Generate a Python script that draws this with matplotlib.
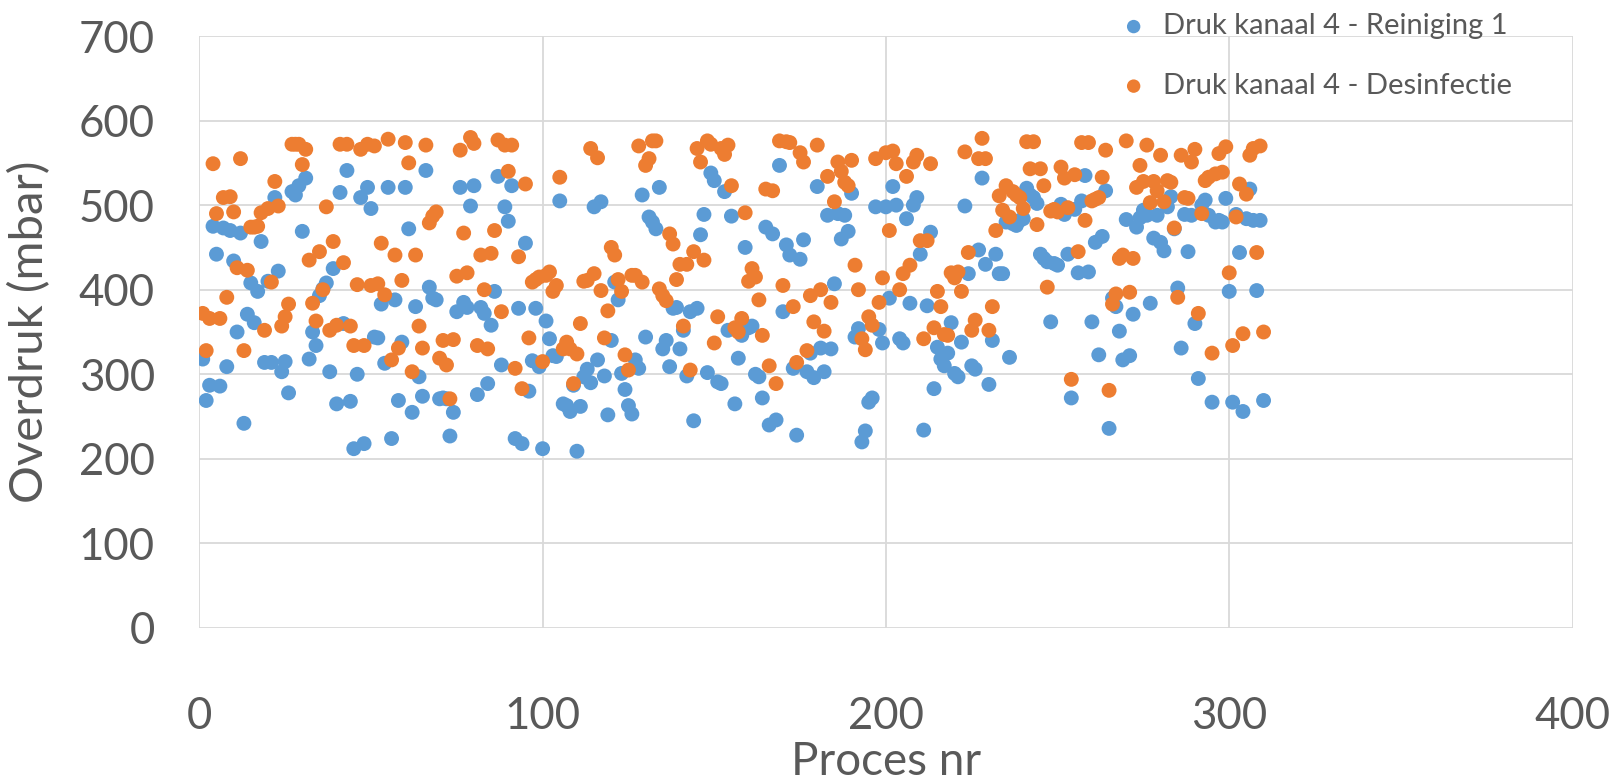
import numpy as np
import matplotlib
matplotlib.use("Agg")
import matplotlib.pyplot as plt

plt.rcParams['font.family'] = ['Lato', 'DejaVu Sans']

BLUE = '#5B9BD5'
ORANGE = '#ED7D31'
GRID = '#D9D9D9'
TEXT = '#595959'

# druk kanaal 4, proces 1..310 (mbar)
reiniging = [
    318, 269, 287, 475, 442, 286, 473, 309, 470, 434,
    350, 467, 242, 371, 408, 361, 398, 457, 314, 410,
    314, 509, 422, 303, 315, 278, 516, 512, 523, 469,
    532, 318, 350, 334, 393, 401, 408, 303, 425, 265,
    515, 360, 541, 268, 212, 300, 509, 218, 521, 496,
    344, 343, 383, 313, 521, 224, 388, 269, 338, 521,
    472, 255, 380, 297, 274, 541, 403, 390, 388, 271,
    272, 271, 227, 255, 374, 521, 385, 379, 499, 523,
    276, 379, 372, 289, 358, 398, 534, 311, 498, 481,
    523, 224, 378, 218, 455, 280, 316, 378, 309, 212,
    363, 342, 322, 321, 505, 265, 263, 256, 287, 209,
    262, 297, 306, 290, 498, 317, 504, 298, 252, 340,
    409, 388, 301, 282, 263, 253, 317, 307, 512, 344,
    486, 480, 472, 521, 330, 340, 309, 378, 379, 330,
    352, 298, 374, 245, 378, 465, 489, 302, 538, 529,
    291, 289, 516, 352, 487, 265, 319, 346, 450, 355,
    357, 300, 297, 272, 474, 240, 466, 246, 547, 374,
    453, 441, 307, 228, 436, 459, 303, 325, 296, 522,
    331, 303, 488, 330, 407, 490, 460, 488, 469, 514,
    344, 354, 220, 233, 267, 272, 498, 353, 337, 498,
    390, 522, 500, 342, 337, 484, 384, 500, 509, 442,
    234, 381, 468, 283, 332, 318, 310, 325, 361, 301,
    297, 338, 499, 419, 310, 306, 447, 532, 430, 288,
    340, 442, 419, 419, 480, 320, 478, 476, 482, 484,
    520, 512, 509, 502, 442, 437, 433, 362, 431, 429,
    501, 489, 442, 272, 495, 420, 505, 535, 421, 362,
    456, 323, 463, 517, 236, 390, 380, 351, 317, 483,
    322, 371, 474, 485, 494, 488, 384, 461, 488, 456,
    446, 498, 510, 472, 402, 331, 489, 445, 488, 360,
    295, 500, 506, 488, 267, 480, 482, 480, 508, 398,
    267, 489, 444, 256, 484, 519, 482, 399, 482, 269,
]

desinfectie = [
    372, 328, 366, 549, 490, 366, 509, 391, 510, 492,
    426, 555, 328, 423, 474, 474, 475, 491, 352, 496,
    409, 528, 499, 357, 368, 383, 572, 572, 572, 548,
    566, 435, 384, 363, 445, 400, 498, 352, 457, 358,
    572, 432, 572, 357, 334, 406, 566, 334, 572, 405,
    570, 407, 455, 394, 578, 317, 441, 331, 411, 574,
    550, 303, 441, 357, 331, 571, 479, 487, 492, 319,
    340, 311, 271, 341, 416, 565, 467, 420, 580, 573,
    334, 441, 400, 330, 443, 470, 577, 374, 571, 540,
    571, 307, 439, 283, 525, 343, 409, 412, 415, 315,
    417, 421, 398, 405, 533, 330, 338, 330, 289, 324,
    360, 410, 411, 567, 419, 556, 399, 343, 375, 450,
    441, 412, 398, 323, 305, 417, 417, 570, 409, 547,
    555, 576, 576, 401, 393, 387, 466, 454, 412, 430,
    357, 430, 305, 445, 567, 551, 435, 576, 572, 337,
    368, 567, 560, 571, 523, 355, 350, 366, 491, 410,
    425, 415, 388, 346, 519, 310, 517, 289, 576, 405,
    575, 574, 380, 314, 562, 551, 328, 393, 362, 571,
    400, 351, 534, 385, 504, 551, 540, 527, 523, 553,
    429, 400, 342, 329, 368, 358, 555, 385, 414, 562,
    470, 564, 549, 400, 419, 534, 429, 551, 559, 458,
    342, 458, 549, 355, 398, 380, 347, 346, 420, 414,
    421, 398, 563, 444, 352, 364, 555, 579, 555, 352,
    380, 470, 511, 494, 523, 486, 516, 512, 509, 496,
    575, 543, 575, 477, 543, 523, 403, 493, 495, 492,
    545, 532, 497, 294, 536, 445, 574, 482, 574, 505,
    507, 509, 533, 565, 281, 383, 395, 437, 441, 576,
    397, 437, 521, 547, 528, 571, 503, 528, 517, 559,
    504, 529, 527, 473, 391, 559, 509, 508, 551, 566,
    372, 490, 529, 533, 325, 537, 561, 539, 569, 420,
    334, 486, 525, 348, 513, 559, 567, 444, 570, 350,
]

proces_r = np.arange(1, len(reiniging) + 1)
proces_d = np.arange(1, len(desinfectie) + 1)

fig = plt.figure(figsize=(16.19, 7.83), dpi=100)
ax = fig.add_axes([0.1231, 0.198, 0.8482, 0.756])

ax.scatter(proces_r, reiniging, s=115, color=BLUE, edgecolors='none',
           label='Druk kanaal 4 - Reiniging 1', zorder=3)
ax.scatter(proces_d, desinfectie, s=115, color=ORANGE, edgecolors='none',
           label='Druk kanaal 4 - Desinfectie', zorder=4)

ax.set_xlim(0, 400)
ax.set_ylim(0, 700)
ax.set_xticks(range(0, 401, 100))
ax.set_yticks(range(0, 701, 100))
ax.grid(True, color=GRID, linewidth=1.3)
ax.set_axisbelow(True)
for s in ax.spines.values():
    s.set_visible(False)

ax.tick_params(length=0, labelsize=31.5, labelcolor=TEXT)
ax.tick_params(axis='x', pad=49)
ax.tick_params(axis='y', pad=32)

ax.set_xlabel('Proces nr', fontsize=33, color=TEXT, labelpad=3)
ax.set_ylabel('Overdruk (mbar)', fontsize=34, color=TEXT, labelpad=20)

ax.legend(loc='upper left', bbox_to_anchor=(0.675, 0.998), bbox_transform=fig.transFigure,
          frameon=False, fontsize=21, labelcolor=TEXT, handletextpad=0.0,
          labelspacing=1.15, markerscale=0.9, borderaxespad=0)

fig.savefig('out.png', dpi=100)
